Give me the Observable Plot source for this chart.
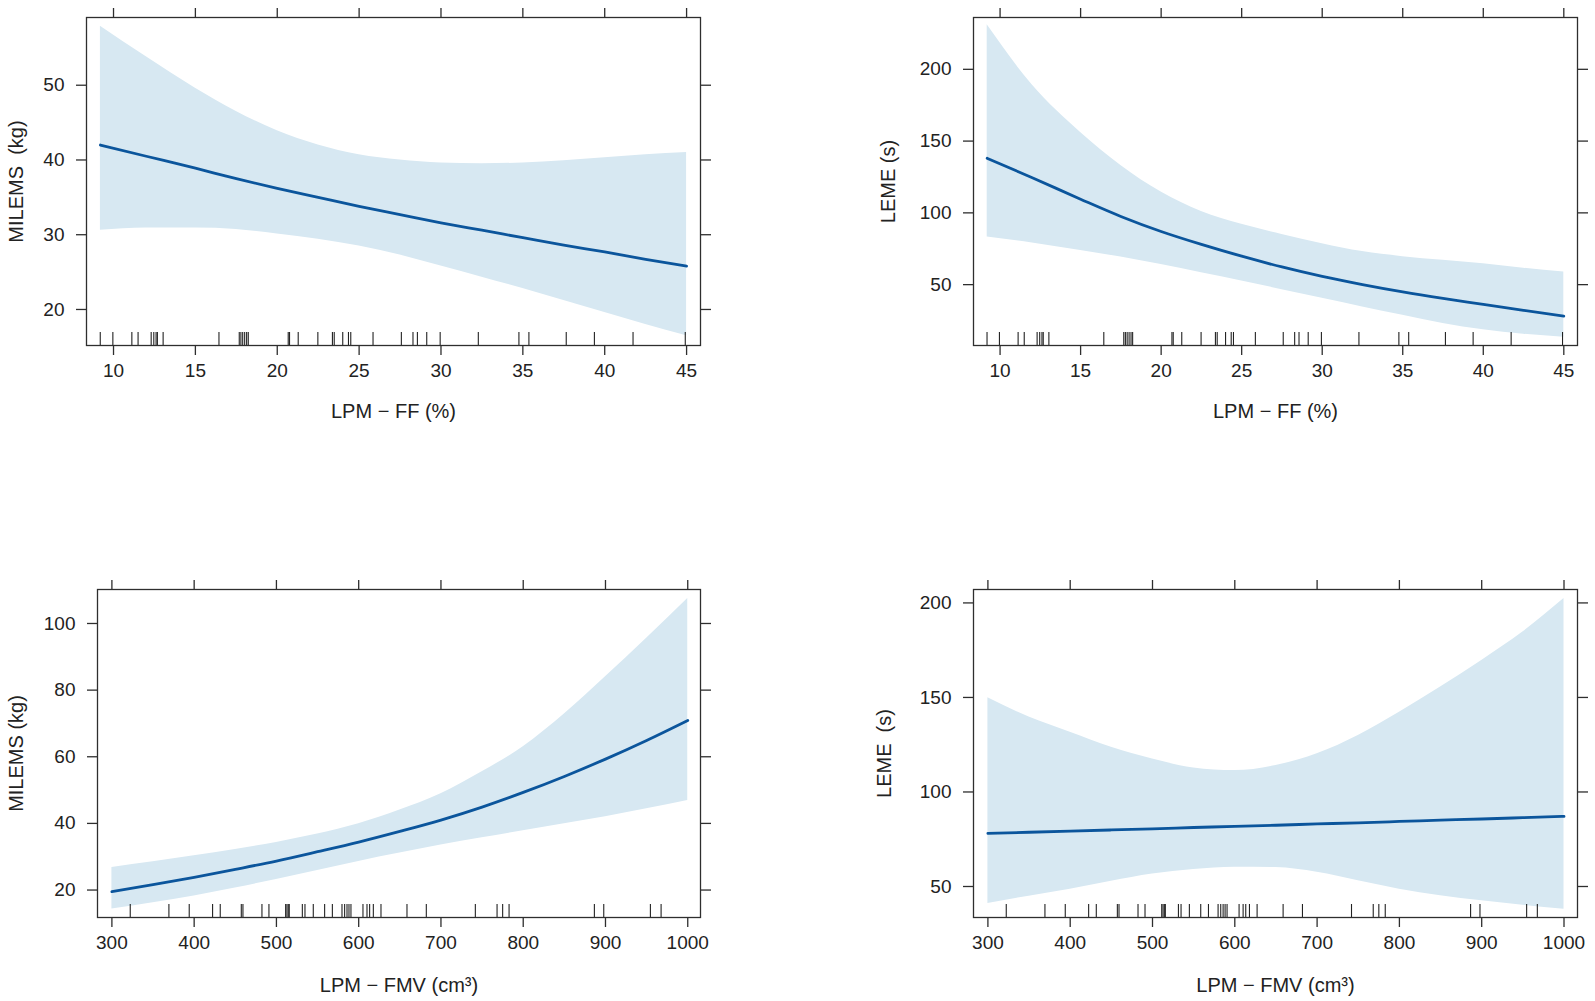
<!DOCTYPE html>
<html><head><meta charset="utf-8">
<script src="https://cdn.jsdelivr.net/npm/d3@7"></script>
<script src="https://cdn.jsdelivr.net/npm/@observablehq/plot@0.6"></script>
<style>
html,body{margin:0;padding:0;background:#fff;width:1595px;height:1001px;overflow:hidden;}
.panel{position:absolute;}
.panel svg{font-family:"Liberation Sans",Arial,sans-serif;overflow:visible;}
g[aria-label$="tick label"] text{font-size:19px;fill:#222;}
g[aria-label$="axis label"] text{font-size:20px;fill:#222;white-space:pre;}
</style></head><body>
<script>
// ---- data ----
const ffX = [9.2, 12, 15, 17.5, 20, 22.5, 25, 27.5, 30, 32.5, 35, 37.5, 40, 42.5, 45];
const milemsFFfit   = [42.0, 40.5, 38.9, 37.5, 36.2, 35.0, 33.8, 32.7, 31.6, 30.6, 29.6, 28.6, 27.7, 26.7, 25.8];
const milemsFFupper = [57.9, 53.8, 49.6, 46.5, 43.9, 42.0, 40.7, 40.0, 39.6, 39.5, 39.6, 39.9, 40.3, 40.7, 41.0];
const milemsFFlower = [30.6, 30.9, 30.9, 30.7, 30.1, 29.4, 28.5, 27.3, 25.8, 24.3, 22.8, 21.2, 19.6, 18.0, 16.5];

const lemeFFfit   = [138, 124.5, 109.5, 97.5, 87, 78, 69.8, 62.3, 55.7, 50, 44.9, 40.4, 36.3, 32.1, 28.1];
const lemeFFupper = [231, 189, 156, 133, 114.5, 101, 92, 85, 78.5, 73, 69.5, 67, 64.5, 61.5, 58.8];
const lemeFFlower = [83.2, 79, 73.8, 69.2, 64, 58.3, 52.6, 46.5, 40.5, 34.5, 28.6, 23, 18.6, 15.5, 13.4];

const fmvX = [300, 350, 400, 450, 500, 550, 600, 650, 700, 750, 800, 850, 900, 950, 1000];
const milemsFMVfit   = [19.5, 21.6, 23.8, 26.2, 28.7, 31.5, 34.4, 37.6, 41.0, 44.9, 49.3, 54.1, 59.3, 64.9, 70.9];
const milemsFMVupper = [26.8, 28.5, 30.3, 32.2, 34.3, 36.8, 39.9, 44.0, 48.9, 55.5, 63.0, 72.8, 84.0, 95.6, 107.5];
const milemsFMVlower = [14.3, 16.2, 18.2, 20.6, 23.2, 25.9, 28.6, 31.1, 33.5, 35.7, 37.8, 39.9, 42.0, 44.4, 46.9];

const lemeFMVfit   = [78.1, 78.7, 79.3, 79.9, 80.5, 81.2, 81.8, 82.4, 83.1, 83.7, 84.4, 85.1, 85.7, 86.4, 87.1];
const lemeFMVupper = [149.8, 139.6, 131.6, 123.7, 117.5, 112.7, 111.3, 114.0, 120.2, 129.9, 142.2, 155.5, 169.6, 184.6, 202.3];
const lemeFMVlower = [41.0, 44.9, 48.6, 52.8, 56.6, 59.0, 60.2, 60.0, 57.5, 53.0, 48.6, 45.1, 42.4, 40.1, 38.0];

const rugFF = [9.19, 9.96, 11.12, 11.5, 12.3, 12.46, 12.6, 12.68, 13.03, 16.44, 17.68, 17.78, 17.89, 18.01, 18.13, 18.23,
  20.67, 20.75, 21.28, 22.48, 23.37, 23.48, 24.0, 24.35, 24.49, 25.85, 27.58, 28.29, 28.56, 29.13, 29.95, 32.28,
  34.76, 35.37, 37.65, 39.37, 41.73, 44.92];
const rugFMV = [322.3, 369.3, 394, 422.4, 431.7, 457.3, 459.3, 482.4, 490.9, 511.2, 512.8, 514.4, 515.6, 531.5, 534.7,
  544.8, 558.6, 568, 579.7, 582.9, 585.8, 588.2, 590.6, 605.2, 610.1, 613.3, 617.8, 627.1, 658.7, 682.2, 741.8,
  768.2, 775, 782.8, 886.5, 897.9, 954.6, 967.6];

const ffTicks = [10, 15, 20, 25, 30, 35, 40, 45];
const fmvTicks = [300, 400, 500, 600, 700, 800, 900, 1000];
const milemsFFTicks = [20, 30, 40, 50];
const lemeFFTicks = [50, 100, 150, 200];
const milemsFMVTicks = [20, 40, 60, 80, 100];
const lemeFMVTicks = [50, 100, 150, 200];

const bandColor = "#d7e8f2";
const lineColor = "#0b559c";
const inkColor = "#2e2e2e";

function panel(o) {
  const rows = o.xs.map((x, i) => ({x, lo: o.lower[i], hi: o.upper[i], fit: o.fit[i]}));
  const frameH = o.height - o.mT - o.mB;
  const chart = Plot.plot({
    width: o.width, height: o.height,
    marginLeft: o.mL, marginRight: o.mR, marginTop: o.mT, marginBottom: o.mB,
    x: {domain: o.xDomain},
    y: {domain: o.yDomain},
    marks: [
      Plot.areaY(rows, {x: "x", y1: "lo", y2: "hi", fill: bandColor, curve: "monotone-x"}),
      Plot.line(rows, {x: "x", y: "fit", stroke: lineColor, strokeWidth: 2.8, curve: "monotone-x"}),
      Plot.ruleX(o.rug, {x: d => d, insetTop: frameH - 13, stroke: "#222", strokeWidth: 1.1}),
      Plot.frame({stroke: inkColor, strokeWidth: 1.3}),
      Plot.axisX({anchor: "bottom", ticks: o.xTicks, tickFormat: d3.format("d"), tickSize: 10, tickPadding: 8,
        stroke: inkColor, strokeWidth: 1.3, label: o.xLabel, labelAnchor: "center", labelArrow: "none", labelOffset: o.xLabelOffset}),
      Plot.axisX({anchor: "top", ticks: o.xTicks, tickFormat: () => "", tickSize: 10, stroke: inkColor, strokeWidth: 1.3, label: null}),
      Plot.axisY({anchor: "left", ticks: o.yTicks, tickFormat: d3.format("d"), tickSize: 10, tickPadding: 12,
        stroke: inkColor, strokeWidth: 1.3, label: o.yLabel, labelAnchor: "center", labelArrow: "none", labelOffset: o.yLabelOffset}),
      Plot.axisY({anchor: "right", ticks: o.yTicks, tickFormat: () => "", tickSize: 10, stroke: inkColor, strokeWidth: 1.3, label: null})
    ]
  });
  const div = document.createElement("div");
  div.className = "panel";
  div.style.left = o.left + "px";
  div.style.top = o.top + "px";
  div.appendChild(chart);
  document.body.appendChild(div);
}

panel({left: 0, top: 0, width: 720, height: 440, mL: 86, mR: 20, mT: 17, mB: 95,
  xDomain: [8.35, 45.85], yDomain: [15.18, 59.06], xTicks: ffTicks, yTicks: milemsFFTicks,
  xLabel: "LPM − FF (%)", yLabel: "MILEMS  (kg)", xLabelOffset: 72, yLabelOffset: 78,
  xs: ffX, fit: milemsFFfit, upper: milemsFFupper, lower: milemsFFlower, rug: rugFF});

panel({left: 870, top: 0, width: 725, height: 440, mL: 103, mR: 18, mT: 17, mB: 95,
  xDomain: [8.35, 45.85], yDomain: [7.6, 236.1], xTicks: ffTicks, yTicks: lemeFFTicks,
  xLabel: "LPM − FF (%)", yLabel: "LEME (s)", xLabelOffset: 72, yLabelOffset: 93,
  xs: ffX, fit: lemeFFfit, upper: lemeFFupper, lower: lemeFFlower, rug: rugFF});

panel({left: 0, top: 560, width: 720, height: 441, mL: 97, mR: 20, mT: 29, mB: 84,
  xDomain: [282.5, 1015.5], yDomain: [11.76, 110.2], xTicks: fmvTicks, yTicks: milemsFMVTicks,
  xLabel: "LPM − FMV (cm³)", yLabel: "MILEMS (kg)", xLabelOffset: 74, yLabelOffset: 89,
  xs: fmvX, fit: milemsFMVfit, upper: milemsFMVupper, lower: milemsFMVlower, rug: rugFMV});

panel({left: 870, top: 560, width: 725, height: 441, mL: 103, mR: 18, mT: 29, mB: 84,
  xDomain: [282.5, 1016.4], yDomain: [33.6, 207.1], xTicks: fmvTicks, yTicks: lemeFMVTicks,
  xLabel: "LPM − FMV (cm³)", yLabel: "LEME  (s)", xLabelOffset: 74, yLabelOffset: 97,
  xs: fmvX, fit: lemeFMVfit, upper: lemeFMVupper, lower: lemeFMVlower, rug: rugFMV});
</script>
</body></html>
